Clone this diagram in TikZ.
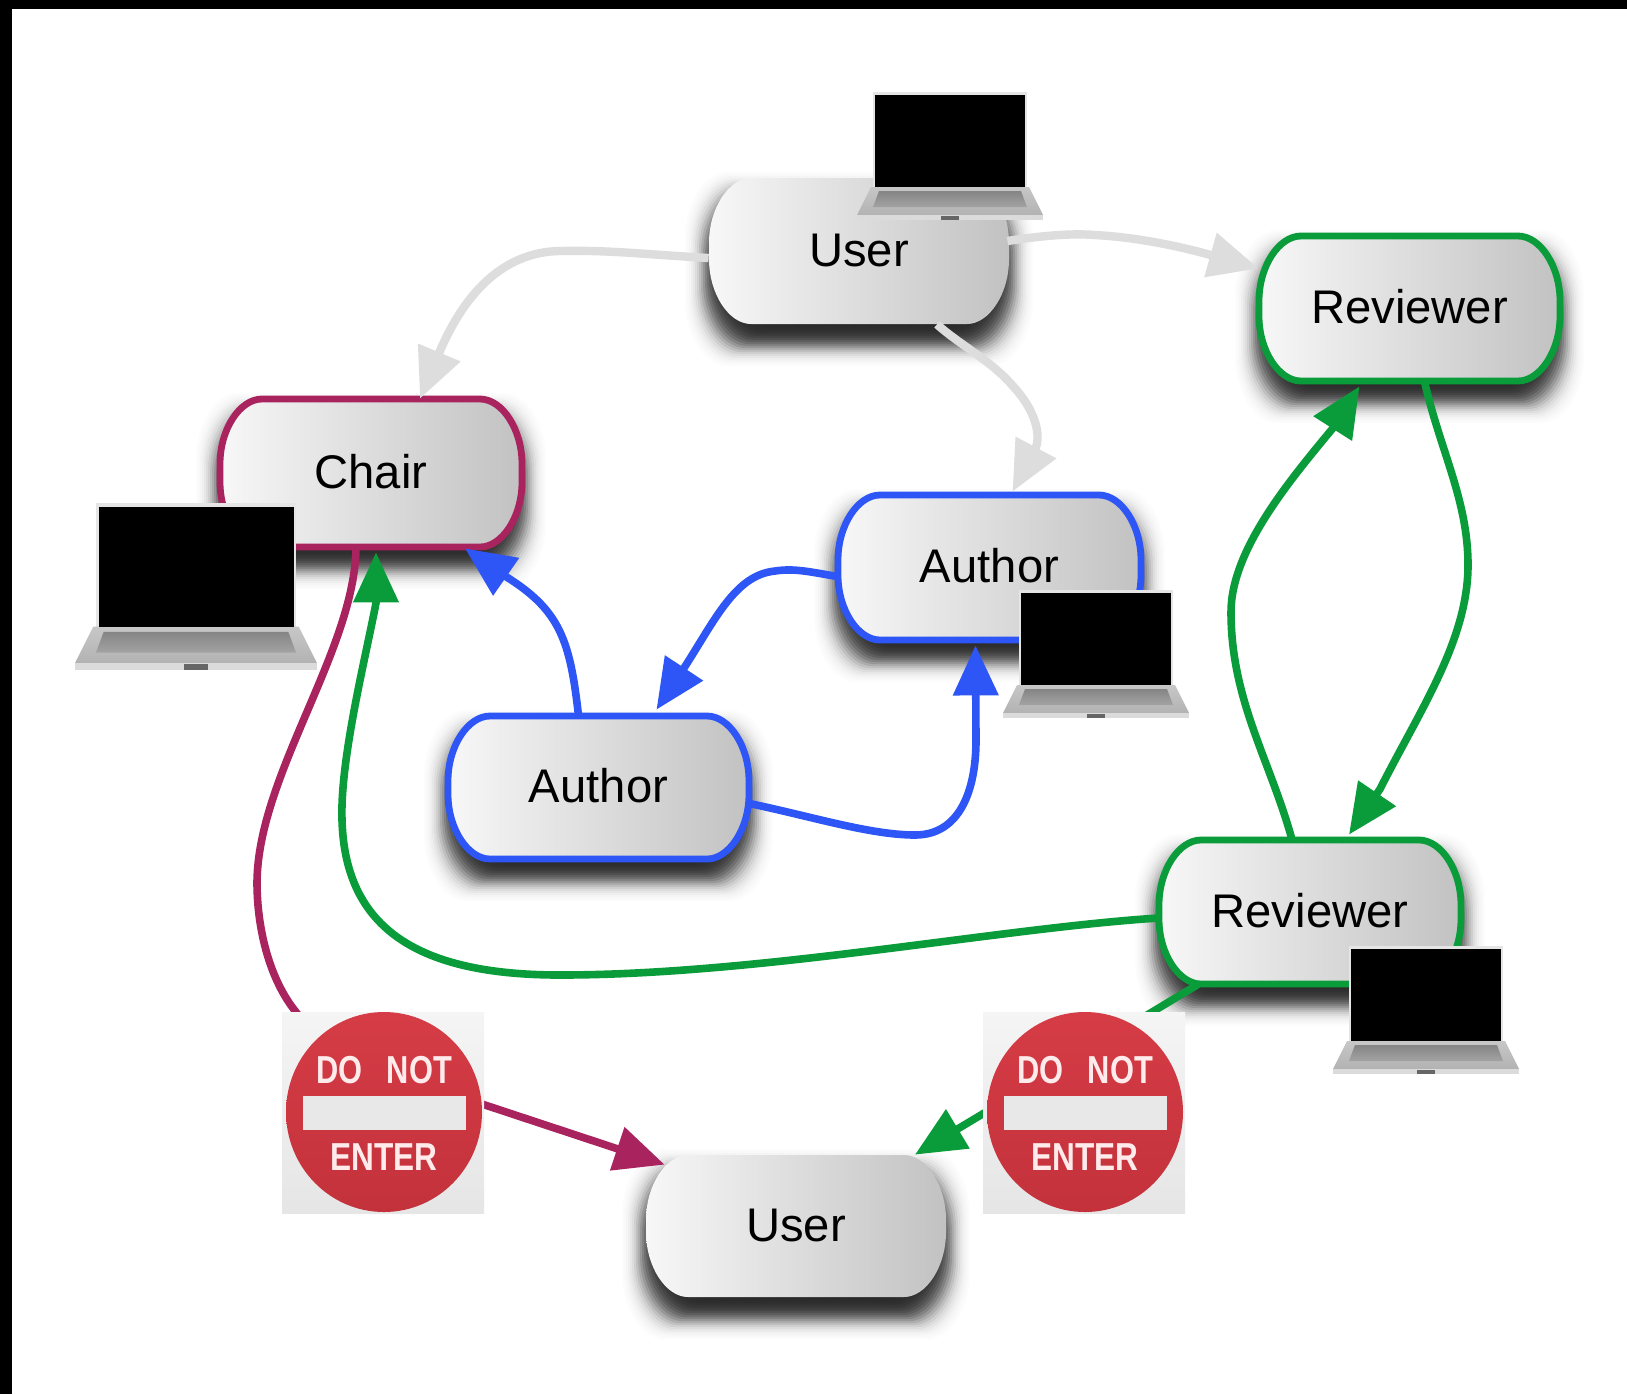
\documentclass[tikz,border=0pt]{standalone}
\usepackage{graphicx}
\usepackage{fontspec}
\setmainfont{Liberation Sans}
\usetikzlibrary{arrows.meta,calc}
\definecolor{cgrey}{HTML}{DCDDDC}
\definecolor{cblue}{HTML}{2E55F5}
\definecolor{cgreen}{HTML}{0A9C3A}
\definecolor{cmag}{HTML}{A9245F}
\definecolor{cred}{HTML}{D43640}
\tikzset{
  conn/.style={line width=3.8pt,-{Triangle[length=25pt,width=22pt]}},
  pilltext/.style={inner sep=0pt,font=\fontsize{23.6}{28}\selectfont,text height=15pt,text depth=0pt},
  signword/.style={inner sep=0pt,text=white!92!red,font=\bfseries\fontsize{19.5}{22}\selectfont},
  signbar/.style={inner sep=0pt,fill=white!91!black,minimum width=81.5pt,minimum height=17pt},
}
\newcommand{\pillshape}[4]{(#1,#2+65) .. controls (#1,#2+30) and (#1+20,#2) .. (#1+42,#2)
  -- (#3-42,#2) .. controls (#3-20,#2) and (#3,#2+30) .. (#3,#2+65)
  -- (#3,#4-65) .. controls (#3,#4-30) and (#3-20,#4) .. (#3-42,#4)
  -- (#1+42,#4) .. controls (#1+20,#4) and (#1,#4-30) .. (#1,#4-65) -- cycle}
% name, x1,y1,x2,y2, outline, text
\newcommand{\pill}[7]{%
  \foreach \k in {-24,-22,...,24}{
    \pgfmathsetmacro{\shadowalpha}{0.008+0.14*exp(-(\k/12)^2)}
    \fill[black,opacity=\shadowalpha] \pillshape{#2+\k}{#3+\k+18}{#4-\k}{#5-\k+18};
  }
  \shade[left color=white!97!black,right color=black!24] \pillshape{#2}{#3}{#4}{#5};
  \draw[#6,line width=3.4pt] \pillshape{#2}{#3}{#4}{#5};
  \node[pilltext,minimum width={(#4-#2)*0.5pt},minimum height={(#5-#3)*0.5pt}] (#1) at ({(#2+#4)/2},{(#3+#5)/2}) {#7};
}
% x,y of screen's top left, scale
\newcommand{\laptop}[3]{%
  \begin{scope}[shift={(#1,#2)},scale=#3]
    \fill[black!10] (-2,-3) rectangle (152,93);
    \shade[top color=black!22,bottom color=black!30] (-4,92) -- (154,92) -- (168,120) -- (-18,120) -- cycle;
    \shade[top color=black!48,bottom color=black!36] (4,96) -- (146,96) -- (152,112) -- (-2,112) -- cycle;
    \fill[black!14] (-18,120) -- (168,120) -- (168,125) -- (-18,125) -- cycle;
    \fill[black!60] (66,121) rectangle (84,125);
    \fill[black] (0,0) rectangle (150,92);
  \end{scope}}
% name, centre x, square left
\newcommand{\sign}[3]{%
  \shade[top color=black!4,bottom color=black!10] (#3,1012) rectangle (#3+202,1213);
  \shade[top color=cred!97!white,bottom color=cred!92!black] (#2,1112) ellipse [x radius=98,y radius=100];
  \node[signbar] (#1bar) at (#2,1113) {};
  \node[signword] (#1do) at (#2,1070) {\scalebox{.79}[1]{DO\hspace{.8em}NOT}};
  \node[signword] (#1en) at (#2,1157) {\scalebox{.81}[1]{ENTER}};
}
\begin{document}
\begin{tikzpicture}[x=0.5pt,y=-0.5pt]
\useasboundingbox (0,0) rectangle (1627,1394);
\fill[white] (0,0) rectangle (1627,1394);
\fill[black] (0,0) rectangle (1627,9);
\fill[black] (0,0) rectangle (12,1394);

\pill{usert}{709}{178}{1009}{324}{draw=none}{User}
\pill{revt}{1259}{236}{1560}{381}{cgreen}{Reviewer}
\pill{chair}{220}{399}{522}{547}{cmag}{Chair}
\pill{autr}{838}{495}{1141}{640}{cblue}{Author}
\pill{autl}{448}{716}{749}{859}{cblue}{Author}
\pill{revb}{1159}{840}{1461}{984}{cgreen}{Reviewer}
\pill{userb}{646}{1155}{946}{1297}{draw=none}{User}

% grey
\draw[conn,draw=cgrey,line width=4.2pt] ($(usert.west)+(0,7)$) .. controls (640,254) and (610,250) .. (560,251)
   .. controls (490,252) and (455,315) .. ($(chair.north)+(49,0)$);
\draw[conn,draw=cgrey,line width=4.2pt] ($(usert.east)+(-2,-10)$) .. controls (1040,236) and (1070,233) .. (1095,235)
   .. controls (1150,238) and (1200,252) .. ($(revt.west)+(0,-40)$);
\draw[conn,draw=cgrey,line width=4.2pt] ($(usert.south)+(78,0)$) .. controls (960,345) and (990,360) .. (1012,385)
   .. controls (1040,415) and (1040,440) .. ($(autr.north)+(23,-3)$);

% blue
\draw[conn,draw=cblue] ($(autl.north)+(-20,0)$) .. controls (570,640) and (560,610) .. (505,576) -- ($(chair.south)+(94,1)$);
\draw[conn,draw=cblue] ($(autr.west)+(0,9)$) .. controls (810,572) and (795,568) .. (775,571)
   .. controls (735,575) and (715,620) .. (684,668) -- ($(autl.north)+(58,-6)$);
\draw[conn,draw=cblue] ($(autl.east)+(0,16)$) .. controls (810,816) and (870,835) .. (915,835)
   .. controls (960,835) and (976,790) .. (976,740) -- ($(autr.south)+(-14,5)$);

% green
\draw[conn,draw=cgreen] ($(revt.south)+(15,0)$) .. controls (1440,450) and (1468,500) .. (1468,565)
   .. controls (1468,640) and (1420,710) .. (1380,789) -- ($(revb.north)+(39,-5)$);
\draw[conn,draw=cgreen] ($(revb.north)+(-18,0)$) .. controls (1270,760) and (1231,700) .. (1231,612)
   .. controls (1231,550) and (1290,480) .. (1333,428) -- ($(revt.south)+(-50,5)$);
\draw[conn,draw=cgreen] ($(revb.west)+(0,6)$) .. controls (1000,928) and (760,975) .. (560,975)
   .. controls (420,975) and (345,930) .. (342,820)
   .. controls (340,760) and (365,660) .. (376,603) -- ($(chair.south)+(5,5)$);
\draw[conn,draw=cgreen] ($(revb.south)+(-112,0)$) -- ($(userb.north)+(119,0)$);

% magenta
\draw[conn,draw=cmag] ($(chair.south)+(-15,0)$) .. controls (355,650) and (258,775) .. (257,882)
   .. controls (257,930) and (270,980) .. (296,1012)
   .. controls (340,1070) and (420,1082) .. (485,1105) -- (615,1148) -- ($(userb.north west)+(19,10)$);

\sign{signl}{384}{282}
\sign{signr}{1085}{983}

\laptop{875}{95}{1}
\laptop{98.5}{507}{1.3}
\laptop{1021}{593}{1}
\laptop{1351}{949}{1}
\end{tikzpicture}
\end{document}
